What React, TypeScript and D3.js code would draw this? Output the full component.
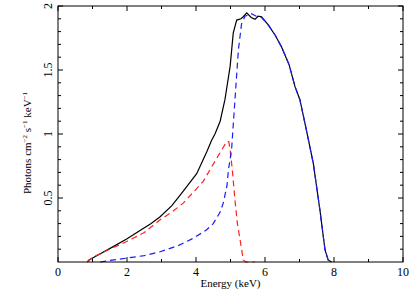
import React from 'react';
import * as d3 from 'd3';

// Total model (black)
const totalE = [0.85, 0.9, 1.2, 1.6, 1.99, 2.4, 2.7, 2.96, 3.3, 3.62, 4.02, 4.31, 4.45, 4.55, 4.7, 4.84, 4.99, 5.08, 5.18, 5.3, 5.37, 5.47, 5.6, 5.71, 5.8, 5.9, 6.1, 6.3, 6.48, 6.7, 6.87, 7.01, 7.2, 7.4, 7.59, 7.74, 7.83, 7.93];
const totalF = [0, 0.015, 0.06, 0.12, 0.18, 0.25, 0.3, 0.354, 0.44, 0.55, 0.69, 0.86, 0.95, 1.0, 1.1, 1.27, 1.53, 1.79, 1.89, 1.9, 1.916, 1.947, 1.91, 1.896, 1.92, 1.916, 1.85, 1.77, 1.68, 1.54, 1.37, 1.27, 1.03, 0.77, 0.41, 0.094, 0.016, 0];

// Red dashed component
const redE = [0.85, 1.02, 1.5, 1.99, 2.5, 2.96, 3.3, 3.63, 4.21, 4.6, 4.89, 4.95, 4.99, 5.06, 5.13, 5.2, 5.28, 5.37, 5.45, 5.7];
const redF = [0, 0.04, 0.1, 0.16, 0.23, 0.33, 0.39, 0.46, 0.63, 0.81, 0.94, 0.94, 0.875, 0.7, 0.48, 0.3, 0.17, 0.016, 0, 0];

// Blue dashed component
const blueE = [1.22, 1.5, 1.99, 2.5, 2.96, 3.5, 3.92, 4.3, 4.5, 4.7, 4.79, 4.9, 4.94, 5.03, 5.13, 5.23, 5.32, 5.42, 5.6, 5.75, 5.9, 6.1, 6.3, 6.48, 6.7, 6.87, 7.01, 7.2, 7.4, 7.59, 7.74, 7.83, 7.93];
const blueF = [0, 0.012, 0.03, 0.05, 0.08, 0.13, 0.185, 0.25, 0.3, 0.39, 0.46, 0.6, 0.72, 0.875, 1.27, 1.66, 1.86, 1.92, 1.94, 1.92, 1.91, 1.85, 1.77, 1.68, 1.54, 1.37, 1.27, 1.03, 0.77, 0.41, 0.094, 0.016, 0];

const xTicks = [0, 2, 4, 6, 8, 10];
const yTicks = [0.5, 1, 1.5, 2];

const W = 416;
const H = 291;
const m = { left: 58, right: 13, top: 6, bottom: 29 };

const App: React.FC = () => {
  const x = d3.scaleLinear().domain([0, 10]).range([m.left, W - m.right]);
  const y = d3.scaleLinear().domain([0, 2]).range([H - m.bottom, m.top]);
  const line = (es: number[], fs: number[]) =>
    d3.line<number>().x((_, i) => x(es[i])).y((d) => y(d))(fs) as string;

  const xMinor = d3.range(1, 10, 2);
  const yMinor = d3.range(0.1, 2, 0.1).filter((v) => Math.abs(v * 2 - Math.round(v * 2)) > 1e-6);
  const x0 = m.left, x1 = W - m.right, y0 = H - m.bottom, y1 = m.top;
  const font = "'Liberation Serif', 'DejaVu Serif', serif";

  return (
    <svg width={W} height={H} style={{ position: 'absolute', left: 0, top: 0, background: '#fff' }}>
      <g stroke="#000" strokeWidth={1}>
        {xTicks.map((t) => (
          <g key={'xt' + t}>
            <line x1={x(t)} x2={x(t)} y1={y0} y2={y0 - 5} />
            <line x1={x(t)} x2={x(t)} y1={y1} y2={y1 + 5} />
          </g>
        ))}
        {xMinor.map((t) => (
          <g key={'xm' + t}>
            <line x1={x(t)} x2={x(t)} y1={y0} y2={y0 - 3} />
            <line x1={x(t)} x2={x(t)} y1={y1} y2={y1 + 3} />
          </g>
        ))}
        {yTicks.map((t) => (
          <g key={'yt' + t}>
            <line x1={x0} x2={x0 + 5} y1={y(t)} y2={y(t)} />
            <line x1={x1} x2={x1 - 5} y1={y(t)} y2={y(t)} />
          </g>
        ))}
        {yMinor.map((t) => (
          <g key={'ym' + t}>
            <line x1={x0} x2={x0 + 3} y1={y(t)} y2={y(t)} />
            <line x1={x1} x2={x1 - 3} y1={y(t)} y2={y(t)} />
          </g>
        ))}
      </g>
      <path d={line(totalE, totalF)} fill="none" stroke="#000" strokeWidth={1.2} />
      <path d={line(redE, redF)} fill="none" stroke="#ff2020" strokeWidth={1.2} strokeDasharray="6,4" />
      <path d={line(blueE, blueF)} fill="none" stroke="#1a1aff" strokeWidth={1.2} strokeDasharray="6,4" />
      <rect x={x0} y={y1} width={x1 - x0} height={y0 - y1} fill="none" stroke="#000" strokeWidth={1} />
      <g style={{ fontFamily: font }} fontSize={12} fill="#000">
        {xTicks.map((t) => (
          <text key={'xl' + t} x={x(t)} y={276} textAnchor="middle">{t}</text>
        ))}
        {yTicks.map((t) => (
          <text key={'yl' + t} transform={`translate(52,${y(t)}) rotate(-90)`} textAnchor="middle">{t}</text>
        ))}
        <text x={(x0 + x1) / 2} y={287} textAnchor="middle" fontSize={11}>Energy (keV)</text>
        <text transform={`translate(31,143) rotate(-90)`} textAnchor="middle" fontSize={11}>
          Photons cm<tspan dy={-4} fontSize={7}>−2</tspan><tspan dy={4}> s</tspan><tspan dy={-4} fontSize={7}>−1</tspan><tspan dy={4}> keV</tspan><tspan dy={-4} fontSize={7}>−1</tspan>
        </text>
      </g>
    </svg>
  );
};

export default App;
